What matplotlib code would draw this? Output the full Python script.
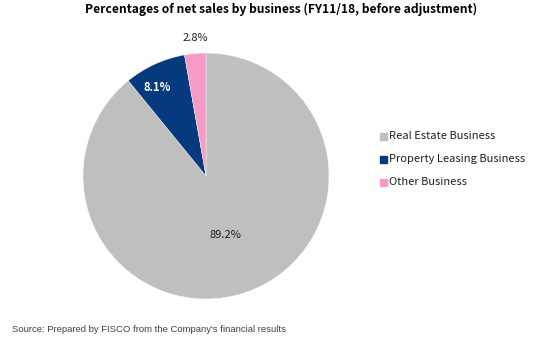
import matplotlib.pyplot as plt

# 事業別売上構成比
labels = ['Real Estate Business', 'Property Leasing Business', 'Other Business']
shares = [89.2, 8.1, 2.8]
colors = ['#bfbfbf', '#053a7f', '#f79ac6']

plt.rcParams['font.family'] = ['Noto Sans CJK JP', 'DejaVu Sans']

W, H = 551, 339
fig = plt.figure(figsize=(W / 100, H / 100), dpi=100)

# 円グラフ（中心 206,176 半径 123 px）
cx, cy, r = 206, 176, 123
ax = fig.add_axes([(cx - r) / W, (H - cy - r) / H, 2 * r / W, 2 * r / H])
wedges, _ = ax.pie(shares, colors=colors, startangle=90, counterclock=False,
                   radius=1.0, wedgeprops=dict(edgecolor='white', linewidth=0.3))
ax.set_xlim(-1, 1)
ax.set_ylim(-1, 1)
ax.set_aspect('equal')
ax.axis('off')

# ラベル位置
pos = [(0.16, -0.48), (-0.40, 0.72), (-0.09, 1.12)]
tcol = ['#202020', 'white', '#202020']
tw = ['normal', 'bold', 'normal']
for v, p, c, w in zip(shares, pos, tcol, tw):
    ax.text(p[0], p[1], f'{v:.1f}%', ha='center', va='center', fontsize=8,
            color=c, fontweight=w, clip_on=False)

fig.text(281 / W, 1 - 9 / H, 'Percentages of net sales by business (FY11/18, before adjustment)',
         ha='center', va='center', fontsize=8.7, fontweight='bold')

# 凡例
for i, (lab, c) in enumerate(zip(labels, colors)):
    y = 1 - (136 + 23 * i) / H
    fig.patches.append(plt.Rectangle((380 / W, y - 3.5 / H), 7 / W, 7 / H,
                                     transform=fig.transFigure, color=c))
    fig.text(389 / W, y, lab, ha='left', va='center', fontsize=8, color='#202020')

fig.text(12 / W, 1 - 329 / H, "Source: Prepared by FISCO from the Company's financial results",
         ha='left', va='center', fontsize=6.8, color='#404040',
         family=['Liberation Sans', 'DejaVu Sans'])

fig.savefig('out.png', dpi=100)
